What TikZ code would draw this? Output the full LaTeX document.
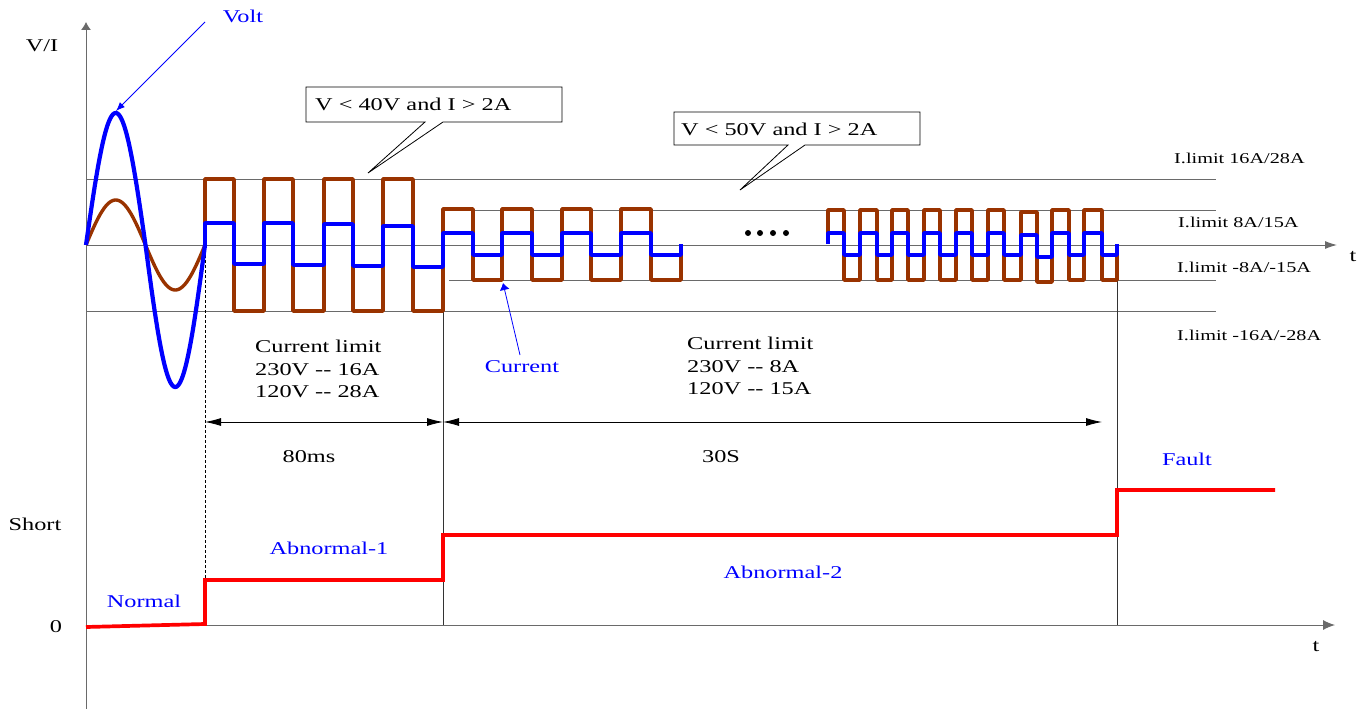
\documentclass[tikz,border=0pt]{standalone}
\usepackage{fontspec}
\setmainfont{Liberation Serif}[FakeStretch=1.35]
\usetikzlibrary{arrows.meta}
\definecolor{brn}{HTML}{993300}
\definecolor{axg}{HTML}{6A6A6A}
\definecolor{redl}{HTML}{FF0000}
\tikzset{
  lbl/.style={font=\fontsize{18}{22.5}\selectfont, inner sep=0pt},
  smalllbl/.style={font=\fontsize{15}{18}\selectfont, inner sep=0pt, anchor=west},
  bluelbl/.style={lbl, text=blue},
  gridline/.style={line width=0.9pt, draw=axg},
  axisline/.style={line width=1pt, draw=axg},
  vline/.style={line width=0.9pt, draw=black!80},
  brnwave/.style={line width=3.7pt, draw=brn, line join=round},
  bluwave/.style={line width=3.8pt, draw=blue, line join=round},
  redwave/.style={line width=3.7pt, draw=redl},
  dimarrow/.style={line width=0.8pt, {Latex[length=16pt,width=8pt]}-{Latex[length=16pt,width=8pt]}},
  calloutbox/.style={line width=0.8pt, draw=black},
  pointer/.style={line width=0.8pt, draw=blue, -{Latex[length=9pt,width=7pt]}}
}
\begin{document}
\begin{tikzpicture}[x=1pt,y=-1pt]
\useasboundingbox (0,0) rectangle (1368,709);
\fill[white] (0,0) rectangle (1368,709);

% limit lines
\draw[gridline] (86,179) -- (1216,179);
\draw[gridline] (443,210) -- (1216,210);
\draw[gridline] (449,280) -- (1216,280);
\draw[gridline] (86,311) -- (1216,311);

% axes
\draw[axisline, -{Latex[length=8pt,width=10pt]}] (86,709) -- (86,22);
\draw[axisline, -{Latex[length=12pt,width=8pt]}] (86,245) -- (1337,245);
\draw[axisline, -{Latex[length=12pt,width=10pt]}] (86,625) -- (1335,625);

% vertical markers
\draw[line width=0.8pt, densely dashed] (205,250) -- (205,625);
\draw[vline] (443,245) -- (443,625);
\draw[vline] (1117,247) -- (1117,625);

% callouts
\draw[calloutbox] (306,87) -- (562,87) -- (562,122) -- (443,122) -- (368,173) -- (425,122) -- (306,122) -- cycle;
\node[lbl, anchor=west] (c1) at (315,104) {V < 40V and I > 2A};
\draw[calloutbox] (674,112) -- (920,112) -- (920,145) -- (805,145) -- (740,190) -- (788,145) -- (674,145) -- cycle;
\node[lbl, anchor=west] (c2) at (681,129) {V < 50V and I > 2A};

% sine waves
\draw[line width=3.4pt, draw=brn] plot[domain=86:205, samples=120, smooth] (\x, {245-45*sin((\x-86)*3.02521)});
\draw[line width=4.2pt, draw=blue] plot[domain=86:145.5, samples=80, smooth] (\x, {245-132*sin((\x-86)*3.02521)});
\draw[line width=4.2pt, draw=blue] plot[domain=145.5:205, samples=80, smooth] (\x, {245-142*sin((\x-86)*3.02521)});

% brown square waves
\draw[brnwave] (205,245) -- (205,179) -- (234,179) -- (234,311) -- (264,311) -- (264,179) -- (293,179) -- (293,311) -- (324,311) -- (324,179) -- (353,179) -- (353,311) -- (383,311) -- (383,179) -- (413,179) -- (413,311) -- (443,311) -- (443,209) -- (473,209) -- (473,280) -- (502,280) -- (502,209) -- (532,209) -- (532,280) -- (562,280) -- (562,209) -- (591,209) -- (591,280) -- (621,280) -- (621,209) -- (651,209) -- (651,280) -- (681,280) -- (681,255);
\draw[brnwave] (828,233) -- (828,210) -- (844,210) -- (844,280) -- (860,280) -- (860,210) -- (877,210) -- (877,280) -- (892,280) -- (892,210) -- (908,210) -- (908,280) -- (924,280) -- (924,210) -- (940,210) -- (940,280) -- (956,280) -- (956,210) -- (972,210) -- (972,280) -- (988,280) -- (988,210) -- (1004,210) -- (1004,280) -- (1021,280) -- (1021,212) -- (1037,212) -- (1037,282) -- (1052,282) -- (1052,210) -- (1069,210) -- (1069,280) -- (1084,280) -- (1084,210) -- (1102,210) -- (1102,280) -- (1117,280) -- (1117,255);

% blue square waves
\draw[bluwave] (205,245) -- (205,223) -- (234,223) -- (234,264) -- (264,264) -- (264,223) -- (293,223) -- (293,265) -- (324,265) -- (324,224) -- (353,224) -- (353,266) -- (383,266) -- (383,226) -- (413,226) -- (413,267) -- (443,267) -- (443,233) -- (473,233) -- (473,255) -- (502,255) -- (502,233) -- (532,233) -- (532,255) -- (562,255) -- (562,233) -- (591,233) -- (591,255) -- (621,255) -- (621,233) -- (651,233) -- (651,255) -- (681,255) -- (681,244);
\draw[bluwave] (828,244) -- (828,233) -- (844,233) -- (844,255) -- (860,255) -- (860,233) -- (877,233) -- (877,255) -- (892,255) -- (892,233) -- (908,233) -- (908,255) -- (924,255) -- (924,233) -- (940,233) -- (940,255) -- (956,255) -- (956,233) -- (972,233) -- (972,255) -- (988,255) -- (988,233) -- (1004,233) -- (1004,255) -- (1021,255) -- (1021,235) -- (1037,235) -- (1037,257) -- (1052,257) -- (1052,233) -- (1069,233) -- (1069,255) -- (1084,255) -- (1084,233) -- (1102,233) -- (1102,255) -- (1117,255) -- (1117,244);

% dots
\foreach \dx in {748,760,773,786} \fill (\dx,233) circle (3pt);

% red status line
\draw[redwave] (86,627) -- (205,624) -- (205,580) -- (443,580) -- (443,535) -- (1117,535) -- (1117,490) -- (1275,490);

% dimension arrows
\coordinate (d1) at (205,422);
\coordinate (d2) at (443,422);
\coordinate (d3) at (1102,422);
\draw[dimarrow] (d1) -- (d2);
\draw[dimarrow] (d2) -- (d3);

% labels
\node[lbl] (vi) at (42,46) {V/I};
\node[bluelbl] (volt) at (243,16) {Volt};
\coordinate (voltA) at (205,22);
\coordinate (voltB) at (116,111);
\draw[pointer] (voltA) -- (voltB);

\node[smalllbl] (l1) at (1174,158) {I.limit 16A/28A};
\node[smalllbl] (l2) at (1178,222) {I.limit 8A/15A};
\node[smalllbl] (l3) at (1177,267) {I.limit -8A/-15A};
\node[smalllbl] (l4) at (1177,335) {I.limit -16A/-28A};
\node[lbl] (t1) at (1353,257) {t};
\node[lbl] (t2) at (1316,647) {t};

\node[lbl, anchor=west, align=left] (cl1) at (255,369) {Current limit\\230V -\kern0pt- 16A\\120V -\kern0pt- 28A};
\node[lbl, anchor=west, align=left] (cl2) at (687,366) {Current limit\\230V -\kern0pt- 8A\\120V -\kern0pt- 15A};

\node[bluelbl] (cur) at (522,367) {Current};
\coordinate (curA) at (520,355);
\coordinate (curB) at (503,283);
\draw[pointer, -{Latex[length=7pt,width=10pt]}] (curA) -- (curB);

\node[lbl] (ms) at (309,457) {80ms};
\node[lbl] (s30) at (721,457) {30S};
\node[lbl] (short) at (35,524) {Short};
\node[lbl] (zero) at (56,627) {0};
\node[bluelbl] (normal) at (144,601) {Normal};
\node[bluelbl] (ab1) at (329,548) {Abnormal-1};
\node[bluelbl] (ab2) at (783,572) {Abnormal-2};
\node[bluelbl] (fault) at (1187,459) {Fault};
\end{tikzpicture}
\end{document}
